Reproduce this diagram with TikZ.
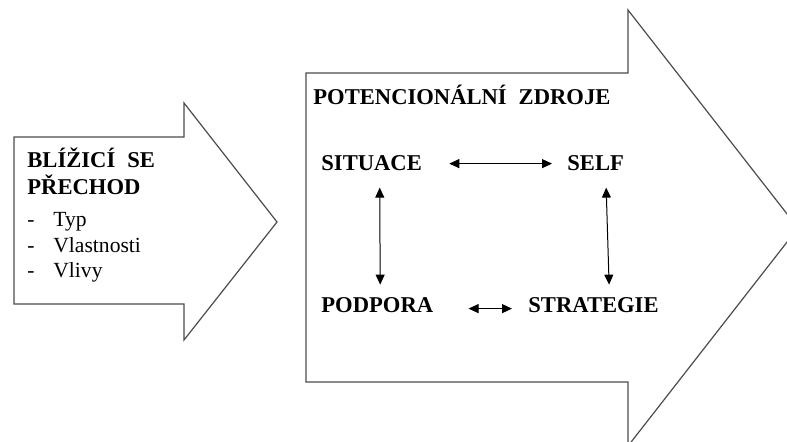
\documentclass[tikz,border=0pt]{standalone}
\usepackage{fontspec}
\setmainfont{Liberation Serif}
\usetikzlibrary{arrows.meta}

\newcommand{\itemdash}[1]{\makebox[13pt][l]{-}#1}

\begin{document}
\begin{tikzpicture}[
        x=0.5pt, y=-0.5pt,
        bigarrow/.style={draw=black!70, line width=0.6pt, fill=white, line join=miter},
        heading/.style={font=\fontsize{11.3}{13.5}\selectfont\bfseries, inner sep=0pt, anchor=base west, align=left},
        items/.style={font=\fontsize{10.8}{12.75}\selectfont, inner sep=0pt, anchor=base west, align=left},
        factor/.style={font=\fontsize{11.3}{13.5}\selectfont\bfseries, inner sep=0pt, anchor=base west},
        link/.style={{Triangle[length=5pt,width=4.5pt]}-{Triangle[length=5pt,width=4.5pt]}, line width=0.5pt, draw=black}
    ]
        \useasboundingbox (0,0) rectangle (787,442);

        % Block arrows
        \draw[bigarrow] (14,137) -- (184,137) -- (184,103) -- (277,222) -- (184,340) -- (184,304) -- (14,304) -- cycle;
        \draw[bigarrow] (306,73) -- (628,73) -- (628,10) -- (798,228) -- (628,446) -- (628,382) -- (306,382) -- cycle;

        % Left arrow text (base = last line)
        \node[heading] (transition) at (27,195) {BLÍŽICÍ\hspace{6pt}SE\\PŘECHOD};
        \node[items] (features) at (27,278) {\itemdash{Typ}\\\itemdash{Vlastnosti}\\\itemdash{Vlivy}};

        % Right arrow text
        \node[heading] (resources) at (313,105) {POTENCIONÁLNÍ\hspace{6pt}ZDROJE};
        \node[factor] (situace) at (321,171) {SITUACE};
        \node[factor] (self) at (567,171) {SELF};
        \node[factor] (podpora) at (321,313) {PODPORA};
        \node[factor] (strategie) at (528,313) {STRATEGIE};

        % Links
        \draw[link, shorten <=13.5pt, shorten >=7.5pt] (situace.east) -- (self.west);
        \draw[link, shorten <=17.5pt, shorten >=8pt] ([yshift=-1.5pt]podpora.east) -- ([yshift=-1.5pt]strategie.west);
        \draw[link, shorten <=8pt, shorten >=6.5pt] ([xshift=4pt]situace.south) -- ([xshift=1.5pt]podpora.north);
        \draw[link, shorten <=8pt, shorten >=6.5pt] ([xshift=5pt]self.south) -- ([xshift=8pt]strategie.north);

    \end{tikzpicture}
\end{document}
